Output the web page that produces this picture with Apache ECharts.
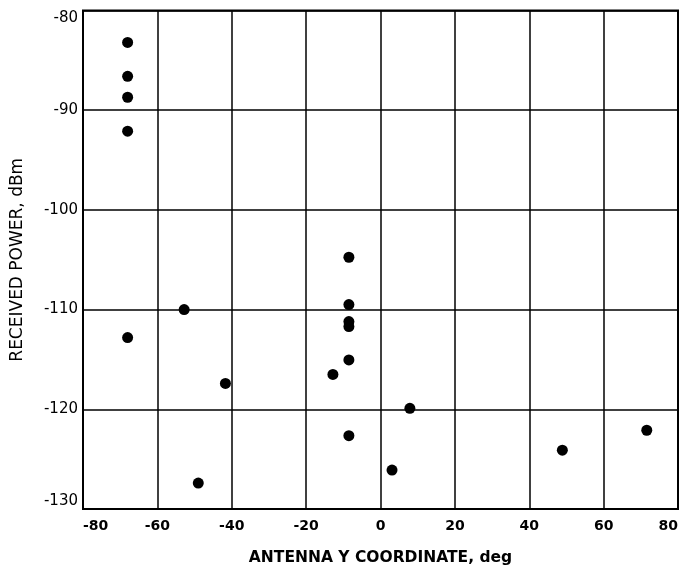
<!DOCTYPE html>
<html>
<head>
<meta charset="utf-8">
<script src="https://cdn.jsdelivr.net/npm/echarts@6/dist/echarts.min.js"></script>
<style>
  html, body { margin: 0; padding: 0; background: #fff; }
  #chart { width: 679px; height: 569px; }
</style>
</head>
<body>
<div id="chart"></div>
<script>
// Antenna Y coordinate (deg) and received power (dBm) per measurement
const antennaY = [-68, -68, -68, -68, -68, -52.8, -41.7, -49, -8.5, -8.5, -8.5, -8.5, -8.5, -12.8, 7.9, -8.5, 3.1, 48.9, 71.6];
const powerDbm = [-83.2, -86.6, -88.7, -92.1, -112.8, -110.0, -117.4, -127.4, -104.75, -109.5, -111.2, -111.7, -115.05, -116.5, -119.9, -122.65, -126.1, -124.1, -122.1];

const xTicks = { min: -80, max: 80, step: 20 };
const yTicks = { min: -130, max: -80, step: 10 };

const points = antennaY.map((x, i) => [x, powerDbm[i]]);

const font = 'DejaVu Sans, Verdana, sans-serif';

const chart = echarts.init(document.getElementById('chart'), null, { renderer: 'canvas' });
chart.setOption({
  animation: false,
  backgroundColor: '#fff',
  grid: { left: 83, right: 1, top: 10.5, bottom: 60, containLabel: false,
          outerBoundsMode: 'none',
          show: true, borderColor: '#000', borderWidth: 2 },
  xAxis: {
    type: 'value',
    min: xTicks.min, max: xTicks.max, interval: xTicks.step,
    name: 'ANTENNA Y COORDINATE, deg',
    nameLocation: 'middle', nameGap: 41,
    nameTextStyle: { color: '#000', fontFamily: font, fontSize: 15.5, fontWeight: 'bold' },
    axisLine: { show: false },
    axisTick: { show: false },
    axisLabel: { color: '#000', fontFamily: font, fontSize: 14, fontWeight: 'bold', margin: 10,
                 alignMinLabel: 'left', alignMaxLabel: 'right' },
    splitLine: { show: true, lineStyle: { color: '#000', width: 1.5 } }
  },
  yAxis: {
    type: 'value',
    min: yTicks.min, max: yTicks.max, interval: yTicks.step,
    name: 'RECEIVED POWER, dBm',
    nameLocation: 'middle', nameGap: 57, nameRotate: 90,
    nameTextStyle: { color: '#000', fontFamily: font, fontSize: 17 },
    axisLine: { show: false },
    axisTick: { show: false },
    axisLabel: { color: '#000', fontFamily: font, fontSize: 15, margin: 5,
                 verticalAlignMaxLabel: 'top', verticalAlignMinLabel: 'bottom' },
    splitLine: { show: true, lineStyle: { color: '#000', width: 1.5 } }
  },
  series: [{
    type: 'scatter',
    data: points,
    symbol: 'circle',
    symbolSize: 11,
    itemStyle: { color: '#000', opacity: 1 }
  }]
});
</script>
</body>
</html>
